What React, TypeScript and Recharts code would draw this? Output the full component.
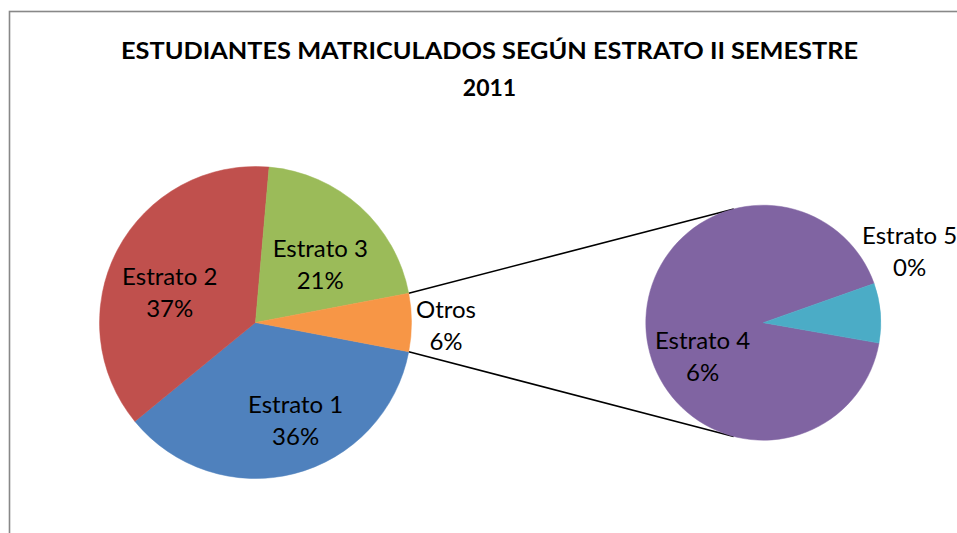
import React from 'react';
import { PieChart, Pie, Cell } from 'recharts';

// ---- data ----
const TITLE_LINES = ['ESTUDIANTES MATRICULADOS SEGÚN ESTRATO II SEMESTRE', '2011'];
const MAIN_CATEGORIES = ['Estrato 1', 'Estrato 2', 'Estrato 3'];
const MAIN_VALUES = [36.05, 37.3, 20.6];
const OTHER_LABEL = 'Otros';
const SECONDARY_CATEGORIES = ['Estrato 4', 'Estrato 5'];
const SECONDARY_VALUES = [5.5, 0.49];

// ---- styles ----
const MAIN_COLORS = ['#4F81BD', '#C0504D', '#9BBB59', '#F79646'];
const SECONDARY_COLORS = ['#8064A2', '#4BACC6'];
const FONT = 'Lato, "Open Sans", sans-serif';
const W = 957;
const H = 533;

const MAIN = { cx: 255.5, cy: 322.5, r: 156 };
const SEC = { cx: 763.3, cy: 322.7, r: 117.5 };

// label placement: radius factor and nudge (styling)
const LABEL_LAYOUT: Record<string, { k: number; dx: number; dy: number }> = {
  'Estrato 1': { k: 0.6, dx: 17, dy: 0 },
  'Estrato 2': { k: 0.6, dx: -3, dy: 6 },
  'Estrato 3': { k: 0.6, dx: 2, dy: 4 },
  Otros: { k: 1.25, dx: -4.5, dy: -5 },
  'Estrato 4': { k: 0.6, dx: 9.5, dy: 20.5 },
  'Estrato 5': { k: 1.25, dx: 0, dy: -66.7 },
};

const otherValue = SECONDARY_VALUES.reduce((a, b) => a + b, 0);
const grandTotal = MAIN_VALUES.reduce((a, b) => a + b, 0) + otherValue;

const mainData = [
  ...MAIN_CATEGORIES.map((name, i) => ({ name, value: MAIN_VALUES[i] })),
  { name: OTHER_LABEL, value: otherValue },
];
const secData = SECONDARY_CATEGORIES.map((name, i) => ({ name, value: SECONDARY_VALUES[i] }));

const otherSpan = (otherValue / grandTotal) * 360;
const mainStart = 360 - otherSpan / 2;
const secEnd = -10;
const secStart = secEnd + 360;

const RAD = Math.PI / 180;

const renderLabel = (props: any) => {
  const { cx, cy, midAngle, outerRadius, name, value } = props;
  const lay = LABEL_LAYOUT[name] || { k: 0.6, dx: 0, dy: 0 };
  const x = cx + lay.k * outerRadius * Math.cos(-midAngle * RAD) + lay.dx;
  const y = cy + lay.k * outerRadius * Math.sin(-midAngle * RAD) + lay.dy;
  const pct = Math.round((value / grandTotal) * 100);
  return (
    <text x={x} y={y} textAnchor="middle" fontFamily={FONT} fontSize={24} fill="#000">
      <tspan x={x} y={y}>{name}</tspan>
      <tspan x={x} y={y + 32}>{pct}%</tspan>
    </text>
  );
};

function tangentPoint(px: number, py: number, c: { cx: number; cy: number; r: number }, upper: boolean) {
  const dx = px - c.cx;
  const dy = py - c.cy;
  const d = Math.sqrt(dx * dx + dy * dy);
  const phi = Math.atan2(dy, dx);
  const a = Math.acos(c.r / d);
  const p1 = { x: c.cx + c.r * Math.cos(phi + a), y: c.cy + c.r * Math.sin(phi + a) };
  const p2 = { x: c.cx + c.r * Math.cos(phi - a), y: c.cy + c.r * Math.sin(phi - a) };
  if (upper) return p1.y < p2.y ? p1 : p2;
  return p1.y > p2.y ? p1 : p2;
}

export default function App() {
  const half = otherSpan / 2;
  const s1 = { x: MAIN.cx + MAIN.r * Math.cos(-half * RAD), y: MAIN.cy + MAIN.r * Math.sin(-half * RAD) };
  const s2 = { x: MAIN.cx + MAIN.r * Math.cos(half * RAD), y: MAIN.cy + MAIN.r * Math.sin(half * RAD) };
  const t1 = tangentPoint(s1.x, s1.y, SEC, true);
  const t2 = tangentPoint(s2.x, s2.y, SEC, false);

  return (
    <div style={{ position: 'absolute', left: 0, top: 0, width: W, height: H, background: '#fff' }}>
      <svg width={W} height={H} style={{ position: 'absolute', left: 0, top: 0 }}>
        <rect x={9.5} y={11.5} width={1200} height={1200} fill="#fff" stroke="#888" strokeWidth={1.6} />
        <text
          x={489.5}
          y={59}
          textAnchor="middle"
          fontFamily={FONT}
          fontWeight={700}
          fontSize={23}
          textLength={737}
          lengthAdjust="spacingAndGlyphs"
          fill="#000"
        >
          {TITLE_LINES[0]}
        </text>
        <text x={489.5} y={96} textAnchor="middle" fontFamily={FONT} fontWeight={700} fontSize={23} fill="#000">
          {TITLE_LINES[1]}
        </text>
        <line x1={s1.x} y1={s1.y} x2={t1.x} y2={t1.y} stroke="#000" strokeWidth={1.6} />
        <line x1={s2.x} y1={s2.y} x2={t2.x} y2={t2.y} stroke="#000" strokeWidth={1.6} />
      </svg>
      <div style={{ position: 'absolute', left: 0, top: 0 }}>
        <PieChart width={W} height={H} margin={{ top: 0, right: 0, bottom: 0, left: 0 }}>
          <Pie
            data={mainData}
            dataKey="value"
            nameKey="name"
            cx={MAIN.cx}
            cy={MAIN.cy}
            outerRadius={MAIN.r}
            startAngle={mainStart}
            endAngle={mainStart - 360}
            isAnimationActive={false}
            label={renderLabel}
            labelLine={false}
          >
            {mainData.map((d, i) => (
              <Cell key={d.name} fill={MAIN_COLORS[i]} stroke={MAIN_COLORS[i]} strokeWidth={0.5} />
            ))}
          </Pie>
          <Pie
            data={secData}
            dataKey="value"
            nameKey="name"
            cx={SEC.cx}
            cy={SEC.cy}
            outerRadius={SEC.r}
            startAngle={secStart}
            endAngle={secEnd}
            isAnimationActive={false}
            label={renderLabel}
            labelLine={false}
          >
            {secData.map((d, i) => (
              <Cell key={d.name} fill={SECONDARY_COLORS[i]} stroke={SECONDARY_COLORS[i]} strokeWidth={0.5} />
            ))}
          </Pie>
        </PieChart>
      </div>
    </div>
  );
}
